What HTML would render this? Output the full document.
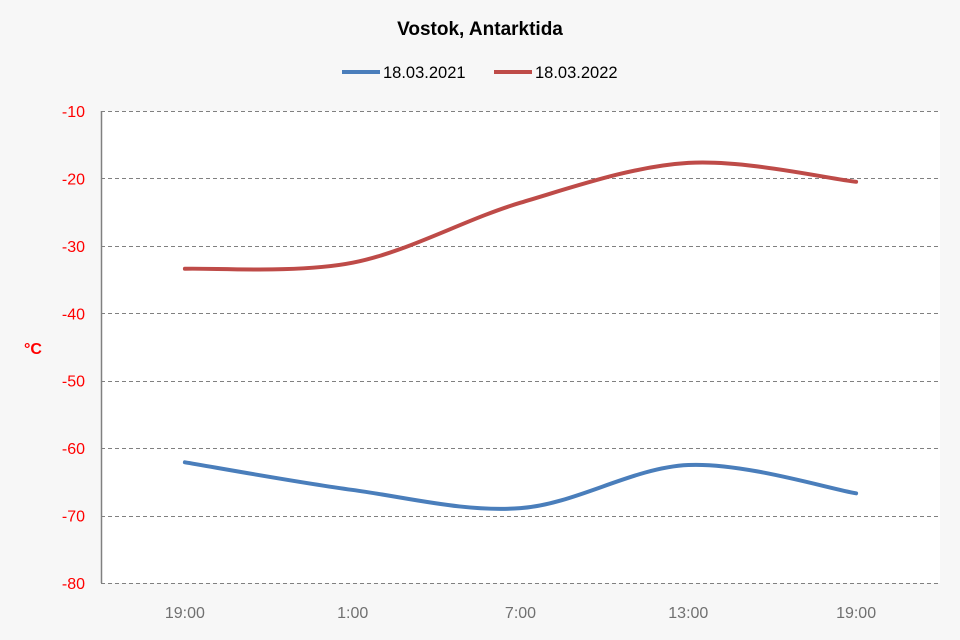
<!DOCTYPE html>
<html><head><meta charset="utf-8"><style>
html,body{margin:0;padding:0;background:#f7f7f7;}
svg{display:block;font-family:"Liberation Sans",Calibri,sans-serif;}
</style></head><body>
<svg id="chart" width="960" height="640" viewBox="0 0 960 640">
<rect x="0" y="0" width="960" height="640" fill="#f7f7f7"/>
<text x="480" y="35" text-anchor="middle" font-size="19" font-weight="bold" fill="#000">Vostok, Antarktida</text>
<g>
<g><line x1="342" y1="72" x2="380" y2="72" stroke="#4a7ebb" stroke-width="4"/><text x="383" y="78" font-size="16.5" fill="#000">18.03.2021</text></g>
<g><line x1="494" y1="72" x2="532" y2="72" stroke="#be4b48" stroke-width="4"/><text x="535" y="78" font-size="16.5" fill="#000">18.03.2022</text></g>
</g>
<rect x="101" y="111" width="839" height="472" fill="#fff"/>
<g id="grid"></g>
<line x1="101.5" y1="111" x2="101.5" y2="583" stroke="#808080" stroke-width="1.5"/>
<g id="yticks"></g><g id="xticks"></g>
<text x="33" y="354" text-anchor="middle" font-size="16" font-weight="bold" fill="#ff0000">°C</text>
<g id="series"></g>
</svg>
<script>
const categories=["19:00","1:00","7:00","13:00","19:00"];
const series2021=[-62.1,-66.2,-68.9,-62.5,-66.7];
const series2022=[-33.4,-32.5,-23.6,-17.7,-20.5];
const yTicks=[-10,-20,-30,-40,-50,-60,-70,-80];
const L=101,R=940,T=111,B=583,yMin=-80,yMax=-10;
const NS="http://www.w3.org/2000/svg";
function xPos(i){return L+(R-L)/categories.length*(i+0.5);}
function yPos(v){return B-(v-yMin)/(yMax-yMin)*(B-T);}
function mk(t,a,p){const e=document.createElementNS(NS,t);for(const k in a)e.setAttribute(k,a[k]);p.appendChild(e);return e;}
const grid=document.getElementById('grid'),yt=document.getElementById('yticks'),xt=document.getElementById('xticks'),sg=document.getElementById('series');
yTicks.forEach(v=>{
 const y=Math.round(yPos(v))+0.5;
 const g=mk('line',{x1:L,x2:R,y1:y,y2:y,stroke:'#808080','stroke-width':1,'stroke-dasharray':'4,3'},grid);
 
 
 const t=mk('text',{x:85,y:yPos(v)+6,'text-anchor':'end','font-size':16,fill:'#ff0000'},yt);
 t.textContent=v;
 
 
});
categories.forEach((c,i)=>{
 const t=mk('text',{x:xPos(i),y:618,'text-anchor':'middle','font-size':16,fill:'#707070'},xt);
 t.textContent=c;
 
 
});
function path(vals){
 const p=vals.map((v,i)=>[xPos(i),yPos(v)]);
 let d=`M${p[0][0]},${p[0][1]}`;
 for(let i=0;i<p.length-1;i++){
  const p0=p[i-1]||p[i],p1=p[i],p2=p[i+1],p3=p[i+2]||p[i+1];
  const k=1/6;
  d+=` C${p1[0]+(p2[0]-p0[0])*k},${p1[1]+(p2[1]-p0[1])*k} ${p2[0]-(p3[0]-p1[0])*k},${p2[1]-(p3[1]-p1[1])*k} ${p2[0]},${p2[1]}`;
 }
 return d;
}
const l1=mk('path',{d:path(series2021),fill:'none',stroke:'#4a7ebb','stroke-width':4,'stroke-linecap':'round'},sg);


const l2=mk('path',{d:path(series2022),fill:'none',stroke:'#be4b48','stroke-width':4,'stroke-linecap':'round'},sg);


</script>
</body></html>
